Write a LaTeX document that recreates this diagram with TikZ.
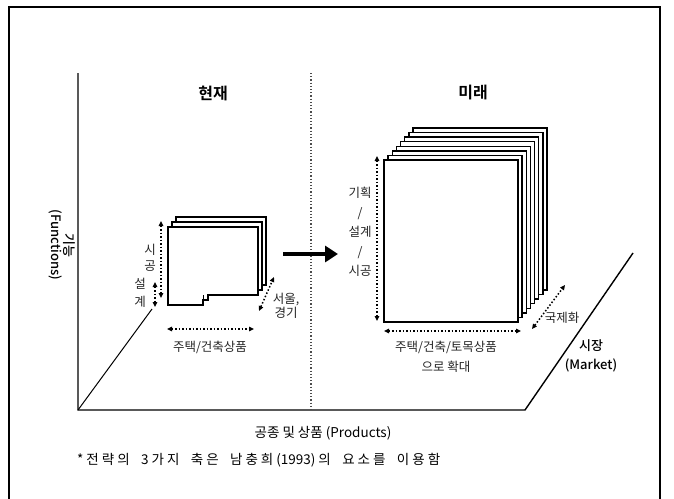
\documentclass[tikz,border=0pt]{standalone}
\usepackage{fontspec}
\setmainfont{Noto Sans CJK KR}[BoldFont={Noto Sans CJK KR Bold}]
\newfontfamily\medf{Noto Sans CJK KR Medium}
\usetikzlibrary{arrows.meta}
\newcommand\kk{\hspace{0pt plus 1fil}}
\newcommand\ww{\hspace{4pt plus 2.5fil}}
\begin{document}
\begin{tikzpicture}[x=1pt,y=-1pt,
  frame/.style={line width=1.2pt},
  axis/.style={line width=1.4pt},
  tri/.tip={Triangle[length=5pt,width=4.5pt]},
  dotarrow/.style={line width=1.5pt, dotted, tri-tri},
  sheet/.style={draw, fill=white, line width=1.4pt},
  lab/.style={font=\fontsize{12.5}{14}\selectfont, text=black!85, inner sep=0pt, align=center},
  head/.style={font=\bfseries\fontsize{16}{18}\selectfont, inner sep=0pt},
  bigarrow/.style={line width=4.5pt, -{Triangle[length=13pt,width=16pt]}}]
\useasboundingbox (0,0) rectangle (674,498);
\fill[white] (0,0) rectangle (674,498);
% frame (open at the bottom)
\draw[frame] (9,500) -- (9,7) -- (660,7) -- (660,500);
% axes
\coordinate (O) at (78,410);
\coordinate (Ytop) at (78,73);
\coordinate (Xend) at (525,410);
\coordinate (Mend) at (633,253);
\coordinate (Sm) at (152,309);
\draw[axis] (Ytop) -- (O) -- (Xend) -- (Mend);
\draw[line width=1pt] (O) -- (Sm);
% divider
\coordinate (Dt) at (311,73);
\coordinate (Db) at (311,410);
\draw[dotted, line width=1.2pt, black!70] (Dt) -- (Db);
% headings
\node[head] (now) at (213,93) {현재};
\node[head] (fut) at (473,93) {미래};
% y-axis label
\node[lab, rotate=-90, text=black, font=\medf\fontsize{13}{13.5}\selectfont] (flab) at (62,245) {기능\\(Functions)};
% small stack
\draw[sheet] (176,217) rectangle (266,285);
\draw[sheet] (172,222) rectangle (262,290);
\draw[sheet] (168,227) -- (258,227) -- (258,295) -- (208,295) -- (208,300) -- (203,300) -- (203,305) -- (168,305) -- cycle;
\draw[line width=0.8pt] (203,295) -- (203,300);
% small stack arrows
\coordinate (s1) at (161,221);
\coordinate (s2) at (161,298);
\draw[dotarrow] (s1) -- (s2);
\coordinate (d1) at (155,282);
\coordinate (d2) at (155,307);
\draw[dotarrow] (d1) -- (d2);
\coordinate (h1) at (167,329);
\coordinate (h2) at (254,329);
\draw[dotarrow] (h1) -- (h2);
\coordinate (g1) at (259,311);
\coordinate (g2) at (274,277);
\draw[dotarrow] (g1) -- (g2);
\node[lab] (si) at (150,250) {시};
\node[lab] (gong) at (150,266) {공};
\node[lab] (seol) at (140,284) {설};
\node[lab] (gye) at (140,302) {계};
\node[lab] (seoul) at (286,306) {서울,\\경기};
\node[lab] (jt1) at (210,347) {주택/건축상품};
% big arrow
\coordinate (a1) at (283,254);
\coordinate (a2) at (338,254);
\draw[bigarrow] (a1) -- (a2);
% big stack
\foreach \i in {7,6,...,0}{
  \draw[sheet] ({384+4.15*\i},{160-4.6*\i}) rectangle ({518+4.15*\i},{322-4.6*\i});
}
\coordinate (v1) at (377,156);
\coordinate (v2) at (377,321);
\draw[dotarrow] (v1) -- (v2);
\coordinate (w1) at (384,331);
\coordinate (w2) at (521,331);
\draw[dotarrow] (w1) -- (w2);
\coordinate (k1) at (532,329);
\coordinate (k2) at (565,285);
\draw[dotarrow] (k1) -- (k2);
\node[lab, font=\fontsize{12.5}{19.5}\selectfont] (plan) at (360,232) {기획\\/\\설계\\/\\시공};
\node[lab, font=\fontsize{12.5}{20}\selectfont] (jt2) at (446,357) {주택/건축/토목상품\\으로 확대};
\node[lab] (intl) at (562,318) {국제화};
\node[lab, text=black, font=\medf\fontsize{13}{19}\selectfont] (mkt) at (591,356) {시장\\(Market)};
% bottom texts
\node[lab, font=\fontsize{13.5}{15}\selectfont, text=black] (prod) at (323,433) {공종 및 상품 (Products)};
\node[lab, font=\fontsize{13.5}{15}\selectfont, text=black, anchor=west] (note) at (77,460) {\hbox to 363pt{*\kk 전\kk 략\kk 의\ww 3\kk 가\kk 지\ww 축\kk 은\ww 남\kk 충\kk 희\kk (1993)\kk 의\ww 요\kk 소\kk 를\ww 이\kk 용\kk 함}};
\end{tikzpicture}
\end{document}
